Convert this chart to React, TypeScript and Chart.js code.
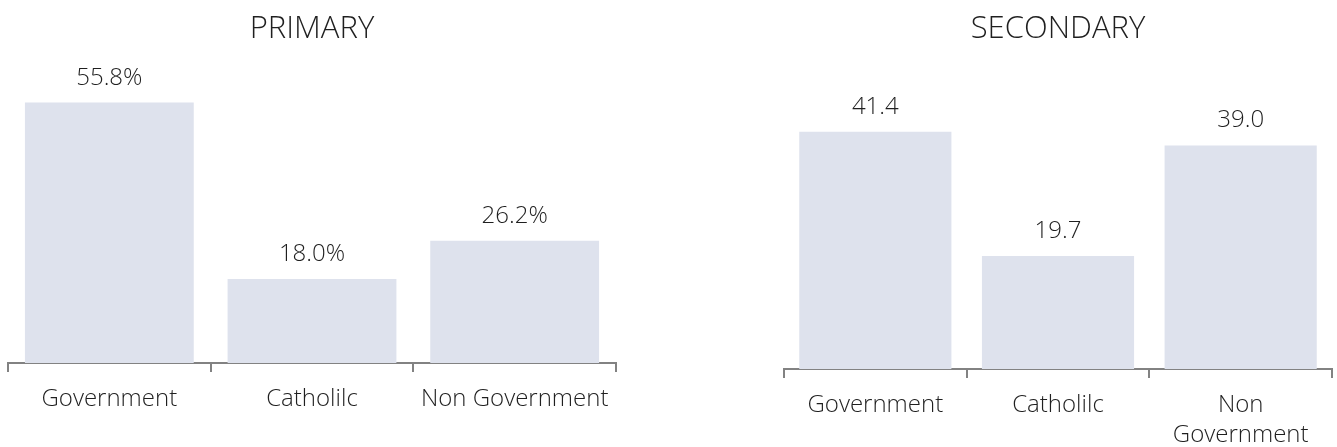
import React, { useEffect, useRef } from "react";
import { Chart, registerables } from "chart.js";

Chart.register(...registerables);

// ---- Data ----
const primaryTitle = "PRIMARY";
const primaryCategories: (string | string[])[] = ["Government", "Catholilc", "Non Government"];
const primaryValues = [55.8, 18.0, 26.2];
const primarySuffix = "%";
const primaryMax = 60;

const secondaryTitle = "SECONDARY";
const secondaryCategories: (string | string[])[] = ["Government", "Catholilc", ["Non", "Government"]];
const secondaryValues = [41.4, 19.7, 39.0];
const secondarySuffix = "";
const secondaryMax = 45;

// ---- Styles ----
const FONT = '"Open Sans", "Noto Sans", sans-serif';
const TEXT = "#1f1f1f";
const BAR = "#dee2ed";
const AXIS = "#828282";

function makeValueLabels(suffix: string) {
  return {
    id: "valueLabels",
    afterDatasetsDraw(chart: any) {
      const ctx = chart.ctx;
      const meta = chart.getDatasetMeta(0);
      const data = chart.data.datasets[0].data as number[];
      ctx.save();
      ctx.font = `300 24px ${FONT}`;
      ctx.fillStyle = TEXT;
      ctx.textAlign = "center";
      ctx.textBaseline = "alphabetic";
      meta.data.forEach((bar: any, i: number) => {
        ctx.fillText(data[i].toFixed(1) + suffix, bar.x, bar.y - 18);
      });
      ctx.restore();
    },
  };
}

type PanelProps = {
  title: string;
  categories: (string | string[])[];
  values: number[];
  max: number;
  suffix: string;
  left: number;
  width: number;
  height: number;
  padding: { left: number; right: number; top: number; bottom: number };
  titleBottom: number;
};

function BarPanel(p: PanelProps) {
  const ref = useRef<HTMLCanvasElement | null>(null);
  useEffect(() => {
    if (!ref.current) return;
    const chart = new Chart(ref.current, {
      type: "bar",
      data: {
        labels: p.categories as any,
        datasets: [
          {
            data: p.values,
            backgroundColor: BAR,
            borderWidth: 0,
            categoryPercentage: 1,
            barPercentage: 0.833,
          },
        ],
      },
      options: {
        animation: false,
        responsive: true,
        maintainAspectRatio: false,
        layout: { padding: p.padding },
        plugins: {
          legend: { display: false },
          tooltip: { enabled: false },
          title: {
            display: true,
            text: p.title,
            color: TEXT,
            font: { family: FONT, size: 31, weight: "300" as any, lineHeight: 1.2 },
            padding: { top: 10.4, bottom: p.titleBottom },
          },
        },
        scales: {
          x: {
            grid: {
              offset: true,
              drawOnChartArea: false,
              drawTicks: true,
              tickLength: 9,
              color: AXIS,
              lineWidth: 2,
            },
            border: { display: true, color: AXIS, width: 2 },
            ticks: {
              color: TEXT,
              font: { family: FONT, size: 24, weight: "300" as any, lineHeight: 1.25 },
              padding: 12,
              maxRotation: 0,
              autoSkip: false,
            },
          },
          y: { display: false, min: 0, max: p.max },
        },
      },
      plugins: [makeValueLabels(p.suffix)],
    });
    return () => chart.destroy();
  }, []);
  return (
    <div
      style={{
        position: "absolute",
        left: p.left,
        top: 0,
        width: p.width,
        height: p.height,
      }}
    >
      <canvas ref={ref} />
    </div>
  );
}

export default function App() {
  return (
    <div
      style={{
        position: "absolute",
        left: 0,
        top: 0,
        width: 1337,
        height: 447,
        overflow: "hidden",
        background: "#fff",
      }}
    >
      <BarPanel
        title={primaryTitle}
        categories={primaryCategories}
        values={primaryValues}
        max={primaryMax}
        suffix={primarySuffix}
        left={0}
        width={660}
        height={447}
        padding={{ left: 8, right: 44, top: 0, bottom: 21 }}
        titleBottom={35.4}
      />
      <BarPanel
        title={secondaryTitle}
        categories={secondaryCategories}
        values={secondaryValues}
        max={secondaryMax}
        suffix={secondarySuffix}
        left={660}
        width={677}
        height={462}
        padding={{ left: 124, right: 5, top: 0, bottom: 0 }}
        titleBottom={63.4}
      />
    </div>
  );
}
